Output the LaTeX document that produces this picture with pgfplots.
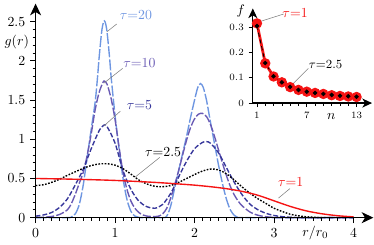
\documentclass[border=0pt]{standalone}
\usepackage{pgfplots}
\pgfplotsset{compat=1.18}
\usetikzlibrary{arrows.meta}
\definecolor{c20}{RGB}{110,150,225}
\definecolor{c10}{RGB}{105,90,180}
\definecolor{c5}{RGB}{55,55,155}
\definecolor{cred}{RGB}{245,20,20}
\begin{document}
\begin{tikzpicture}
\begin{axis}[
  at={(0pt,0pt)}, anchor=south west,
  scale only axis, width=244.3pt, height=154.8pt,
  xmin=0, xmax=4.25, ymin=0, ymax=2.73,
  axis lines=left,
  axis line style={line width=0.9pt,-{Stealth[length=8.5pt,width=8pt,inset=2.5pt]}},
  axis on top, clip=false,
  tick align=outside,
  xtick={0,1,2,3,4}, minor x tick num=9,
  ytick={0,0.5,1,1.5,2,2.5}, minor y tick num=4,
  major tick length=4pt, minor tick length=2.2pt,
  every tick/.style={black, line width=0.6pt},
  yticklabel style={/pgf/number format/fixed},
]
% tau = 20
\addplot[c20, line width=1pt, dash pattern=on 8pt off 1.5pt, smooth] table {
0 0
0.40 0
0.45 0.01
0.50 0.05
0.55 0.17
0.60 0.42
0.65 0.78
0.70 1.13
0.75 1.48
0.78 1.80
0.80 2.05
0.835 2.40
0.865 2.51
0.895 2.40
0.93 2.05
0.95 1.80
1.00 1.30
1.05 0.88
1.10 0.50
1.15 0.23
1.20 0.08
1.25 0.02
1.30 0.003
1.35 0
1.60 0
1.65 0.02
1.70 0.15
1.75 0.38
1.80 0.60
1.85 0.82
1.90 1.04
1.95 1.28
2.00 1.50
2.04 1.66
2.075 1.71
2.11 1.66
2.15 1.50
2.20 1.22
2.25 0.95
2.30 0.68
2.35 0.44
2.40 0.24
2.45 0.10
2.50 0.03
2.55 0.005
2.60 0
4.00 0
};
% tau = 10
\addplot[c10, line width=1pt, dash pattern=on 6pt off 1.5pt, smooth] table {
0 0.003
0.1 0.006
0.2 0.015
0.3 0.04
0.4 0.10
0.45 0.18
0.5 0.30
0.55 0.44
0.6 0.58
0.65 0.80
0.7 1.07
0.75 1.38
0.8 1.60
0.85 1.73
0.87 1.74
0.9 1.70
0.95 1.52
1.0 1.25
1.05 0.90
1.1 0.58
1.15 0.36
1.2 0.21
1.25 0.12
1.3 0.065
1.35 0.035
1.4 0.02
1.5 0.013
1.55 0.02
1.6 0.05
1.65 0.12
1.7 0.25
1.75 0.42
1.8 0.60
1.85 0.80
1.9 0.99
1.95 1.15
2.0 1.26
2.05 1.32
2.1 1.33
2.15 1.29
2.2 1.19
2.25 1.04
2.3 0.87
2.35 0.70
2.4 0.54
2.45 0.40
2.5 0.29
2.55 0.21
2.6 0.15
2.7 0.07
2.8 0.03
2.9 0.012
3.0 0.004
3.1 0
4.0 0
};
% tau = 5
\addplot[c5, line width=1pt, dash pattern=on 3.5pt off 1.5pt, smooth] table {
0 0.02
0.1 0.035
0.2 0.065
0.3 0.13
0.4 0.24
0.5 0.42
0.6 0.62
0.7 0.88
0.8 1.11
0.86 1.18
0.9 1.16
1.0 0.95
1.1 0.60
1.2 0.36
1.3 0.21
1.4 0.14
1.5 0.12
1.6 0.17
1.7 0.31
1.75 0.41
1.8 0.52
1.9 0.72
2.0 0.88
2.1 0.96
2.15 0.97
2.2 0.95
2.3 0.83
2.4 0.64
2.5 0.45
2.6 0.29
2.7 0.17
2.8 0.10
2.9 0.055
3.0 0.028
3.1 0.013
3.2 0.005
3.3 0.002
3.4 0
4.0 0
};
% tau = 2.5
\addplot[black, line width=1pt, dash pattern=on 1.2pt off 1.1pt, smooth] table {
0 0.41
0.1 0.42
0.2 0.45
0.3 0.49
0.4 0.54
0.5 0.585
0.6 0.63
0.7 0.665
0.8 0.685
0.9 0.688
1.0 0.67
1.1 0.625
1.2 0.555
1.3 0.48
1.4 0.43
1.5 0.40
1.6 0.395
1.7 0.41
1.8 0.45
1.9 0.50
2.0 0.55
2.1 0.595
2.2 0.62
2.3 0.61
2.4 0.56
2.5 0.48
2.6 0.39
2.7 0.31
2.8 0.24
2.9 0.18
3.0 0.12
3.1 0.08
3.2 0.045
3.3 0.025
3.4 0.012
3.5 0.005
3.6 0
};
% tau = 1
\addplot[cred, line width=1pt, smooth] table {
0 0.50
0.5 0.49
1.0 0.475
1.5 0.45
1.8 0.43
2.0 0.415
2.2 0.395
2.4 0.37
2.6 0.335
2.8 0.285
3.0 0.215
3.2 0.145
3.4 0.088
3.6 0.05
3.8 0.025
4.0 0.01
};
\draw[gray, line width=0.4pt] (axis cs:1.02,2.47) -- (axis cs:0.896,2.37);
\draw[gray, line width=0.4pt] (axis cs:1.095,1.904) -- (axis cs:0.858,1.715);
\draw[gray, line width=0.4pt] (axis cs:1.066,1.358) -- (axis cs:0.858,1.169);
\draw[gray, line width=0.4pt] (axis cs:1.563,0.769) -- (axis cs:1.252,0.517);
\draw[gray, line width=0.4pt] (axis cs:3.2,0.371) -- (axis cs:3.056,0.25);
\node[c20] at (axis cs:1.262,2.585) {$\tau{=}20$};
\node[c10] at (axis cs:1.306,1.967) {$\tau{=}10$};
\node[c5] at (axis cs:1.306,1.434) {$\tau{=}5$};
\node[black] at (axis cs:1.604,0.832) {$\tau{=}2.5$};
\node[text=cred] at (axis cs:3.21,0.454) {$\tau{=}1$};
\node at (axis cs:-0.236,2.24) {$g(r)$};
\node at (axis cs:3.52,-0.195) {$r/r_0$};
\end{axis}
\begin{axis}[
  at={(157.1pt,82.9pt)}, anchor=south west,
  scale only axis, width=86.2pt, height=68.4pt,
  xmin=0.5, xmax=14.86, ymin=0, ymax=0.374,
  axis lines=left,
  axis line style={line width=0.8pt,-{Stealth[length=7pt,width=6.5pt,inset=2pt]}},
  axis on top, clip=false,
  tick align=outside,
  xtick={1,7,13}, minor xtick={2,3,4,5,6,8,9,10,11,12},
  ytick={0,0.1,0.2,0.3},
  major tick length=3pt, minor tick length=2pt,
  every tick/.style={black, line width=0.5pt},
  ticklabel style={font=\fontsize{7.5}{9}\selectfont},
  yticklabel style={/pgf/number format/fixed},
]
\addplot[cred, line width=2pt, mark=*, mark size=2.7pt, mark options={solid, fill=cred, draw=cred}] table {
1 0.315
2 0.157
3 0.105
4 0.082
5 0.063
6 0.052
7 0.045
8 0.040
9 0.036
10 0.031
11 0.028
12 0.026
13 0.024
};
\addplot[black, line width=0.6pt, densely dashed, mark=*, mark size=1.3pt, mark options={solid, fill=black}] table {
1 0.305
2 0.158
3 0.106
4 0.082
5 0.064
6 0.052
7 0.045
8 0.040
9 0.036
10 0.032
11 0.029
12 0.027
13 0.025
};
\draw[gray, line width=0.4pt] (axis cs:4.21,0.352) -- (axis cs:1.04,0.319);
\draw[gray, line width=0.4pt] (axis cs:7.19,0.137) -- (axis cs:5.0,0.065);
\node[text=cred] at (axis cs:5.59,0.355) {$\tau{=}1$};
\node[black] at (axis cs:9.27,0.152) {\small$\tau{=}2.5$};
\node at (axis cs:-0.95,0.365) {$f$};
\node at (axis cs:9.96,-0.052) {$n$};
\end{axis}
\end{tikzpicture}
\end{document}
